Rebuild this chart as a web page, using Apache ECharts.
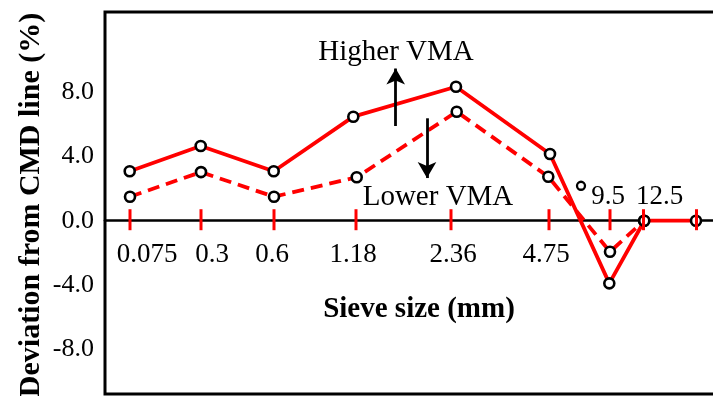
<!DOCTYPE html>
<html>
<head>
<meta charset="utf-8">
<script src="https://cdn.jsdelivr.net/npm/echarts@6/dist/echarts.min.js"></script>
<style>html,body{margin:0;padding:0;background:#fff;}#chart{width:713px;height:396px;}</style>
</head>
<body>
<div id="chart"></div>
<script>
// ---- data ----
var sieveLabels = ['0.075', '0.3', '0.6', '1.18', '2.36', '4.75', '9.5', '12.5', ''];
// position of each sieve along the (irregular) x scale, in axis units
var sievePos = [25, 96, 169, 251, 346, 444, 505, 538.5, 591.5];
// x positions of plotted points
var higherX = [24.7, 95.7, 168.7, 248.3, 351, 445, 504.3, 539.3, 591];
var lowerX = [25, 96, 169, 251.7, 351.7, 443.3, 505, 539];
var higherVMA = [3.07, 4.64, 3.07, 6.46, 8.32, 4.14, -3.89, 0, 0];
var lowerVMA = [1.49, 3.02, 1.49, 2.70, 6.77, 2.73, -1.93, 0];
var strayPoint = [[476, 2.17]];
var yTickValues = [-8, -4, 0, 4, 8];

var FONT = '"Liberation Serif", "Times New Roman", serif';
function zip(xs, ys) { return ys.map(function (y, i) { return [xs[i], y]; }); }

// label layout (offsets in px relative to tick point)
var labelOffsets = [[17, 34], [11, 34], [-2, 34], [-3, 34], [2, 34], [-3, 34], [-2, -24], [16, -24], [0, 0]];

var chart = echarts.init(document.getElementById('chart'));
var option = {
  animation: false,
  backgroundColor: '#fff',
  grid: { left: 105, top: 12, right: -10, bottom: 2, outerBoundsMode: 'none', containLabel: false,
          show: true, borderColor: '#000', borderWidth: 3, backgroundColor: 'transparent' },
  xAxis: {
    type: 'value', min: 0, max: 618,
    axisLine: { onZero: true, lineStyle: { color: '#000', width: 2.7 } },
    axisTick: { show: false }, axisLabel: { show: false }, splitLine: { show: false }
  },
  yAxis: {
    type: 'value', min: -10.76, max: 12.96,
    axisLine: { show: false }, axisTick: { show: false }, splitLine: { show: false },
    axisLabel: {
      customValues: yTickValues, margin: 11, color: '#000', fontFamily: FONT, fontSize: 26,
      formatter: function (v) { return v.toFixed(1); }
    }
  },
  series: [
    {
      name: 'Higher VMA', type: 'line', data: zip(higherX, higherVMA), z: 3,
      lineStyle: { color: '#ff0000', width: 3.8 },
      symbol: 'circle', symbolSize: 10,
      itemStyle: { color: '#fff', borderColor: '#000', borderWidth: 2.6, opacity: 1 }
    },
    {
      name: 'Lower VMA', type: 'line', data: zip(lowerX, lowerVMA), z: 2,
      lineStyle: { color: '#ff0000', width: 3.8, type: [12, 7] },
      symbol: 'circle', symbolSize: 10,
      itemStyle: { color: '#fff', borderColor: '#000', borderWidth: 2.6, opacity: 1 }
    },
    {
      type: 'scatter', data: strayPoint, symbol: 'circle', symbolSize: 8, z: 4,
      itemStyle: { color: '#fff', borderColor: '#000', borderWidth: 2.3, opacity: 1 },
      markLine: {
        silent: true, symbol: ['none', 'arrow'], symbolSize: [14, 16],
        lineStyle: { color: '#000', width: 2.8, type: 'solid', opacity: 1 },
        label: { show: false },
        data: [
          [{ coord: [290.7, 5.88] }, { coord: [290.7, 9.45] }],
          [{ coord: [322, 6.36] }, { coord: [322, 2.65] }]
        ]
      }
    },
    {
      type: 'scatter', z: 5, silent: true,
      data: sievePos.map(function (x) { return [x, 0]; }),
      symbol: 'rect', symbolSize: [3, 21], symbolOffset: [0, -1],
      itemStyle: { color: '#ff0000', opacity: 1 }
    },
    {
      type: 'scatter', z: 6, silent: true, symbolSize: 1,
      itemStyle: { color: 'rgba(0,0,0,0)' },
      data: sievePos.map(function (x, i) {
        return {
          value: [x, 0], name: sieveLabels[i],
          label: { offset: labelOffsets[i] }
        };
      }),
      label: {
        show: true, position: 'inside', color: '#000', fontFamily: FONT, fontSize: 27,
        textBorderWidth: 0, textBorderColor: 'transparent', opacity: 1,
        formatter: function (p) { return p.name; }
      }
    }
  ],
  graphic: [
    { type: 'text', x: 31, y: 205, rotation: Math.PI / 2,
      style: { text: 'Deviation from CMD line (%)', font: 'bold 30px ' + FONT, fill: '#000', textAlign: 'center', textVerticalAlign: 'middle' } },
    { type: 'text', x: 419, y: 310,
      style: { text: 'Sieve size (mm)', font: 'bold 29px ' + FONT, fill: '#000', textAlign: 'center', textVerticalAlign: 'middle' } },
    { type: 'text', x: 396, y: 52,
      style: { text: 'Higher VMA', font: '29px ' + FONT, fill: '#000', textAlign: 'center', textVerticalAlign: 'middle' } },
    { type: 'text', x: 438, y: 197,
      style: { text: 'Lower VMA', font: '29px ' + FONT, fill: '#000', textAlign: 'center', textVerticalAlign: 'middle' } }
  ]
};
chart.setOption(option);
</script>
</body>
</html>
